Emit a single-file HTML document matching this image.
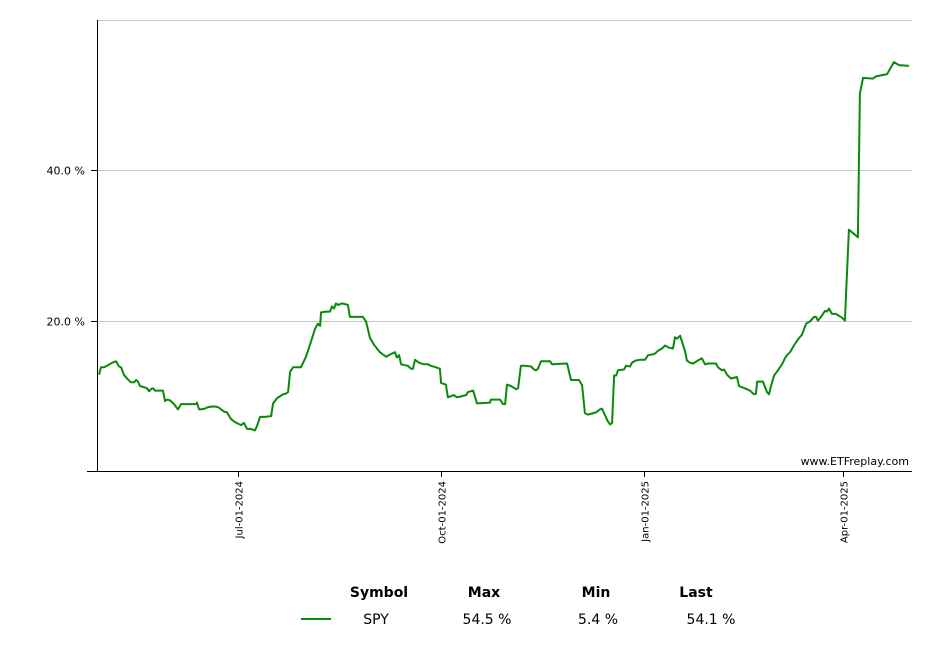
<!DOCTYPE html>
<html><head><meta charset="utf-8"><style>
html,body{margin:0;padding:0;background:#fff;}
svg{display:block;font-family:"DejaVu Sans","Liberation Sans",sans-serif;}
</style></head><body>
<svg id="chart" width="940" height="660" viewBox="0 0 940 660" xmlns="http://www.w3.org/2000/svg">
<g id="grid"></g>
<g id="axes"></g>
<path id="line" fill="none" stroke="#0a8a0a" stroke-width="2" stroke-linejoin="round"></path>
<text x="909" y="465" font-size="11" text-anchor="end" fill="#000">www.ETFreplay.com</text>
<g font-size="14">
<text x="379" y="597" font-weight="bold" text-anchor="middle">Symbol</text>
<text x="484" y="597" font-weight="bold" text-anchor="middle">Max</text>
<text x="596" y="597" font-weight="bold" text-anchor="middle">Min</text>
<text x="696" y="597" font-weight="bold" text-anchor="middle">Last</text>
<line x1="301" y1="619" x2="331" y2="619" stroke="#0a8a0a" stroke-width="2"/>
<text x="376" y="624" text-anchor="middle">SPY</text>
<text x="487" y="624" text-anchor="middle">54.5 %</text>
<text x="598" y="624" text-anchor="middle">5.4 %</text>
<text x="711" y="624" text-anchor="middle">54.1 %</text>
</g>
</svg>
<script>
// days since Jul-01-2024
const days=[-63.0,-62.1,-60.7,-59.4,-57.1,-55.3,-53.9,-53.0,-51.7,-50.3,-48.5,-47.1,-46.2,-45.3,-44.4,-42.1,-41.2,-40.3,-39.4,-38.5,-37.6,-34.0,-33.1,-32.2,-30.8,-29.0,-27.2,-25.8,-24.0,-22.2,-19.0,-18.6,-17.7,-16.8,-15.0,-13.6,-10.9,-9.1,-6.3,-5.0,-3.2,-1.4,1.4,2.7,4.1,5.9,7.7,8.6,10.0,12.2,15.0,15.9,17.7,20.4,21.7,22.7,23.6,24.9,28.5,30.8,32.6,34.9,36.2,37.2,37.6,39.9,41.7,42.6,43.5,44.4,45.3,47.1,49.8,50.7,53.5,56.6,58.0,59.8,61.6,64.3,65.7,67.1,68.9,71.1,72.0,73.0,73.9,77.0,78.4,79.3,80.2,82.0,84.3,86.1,87.4,89.7,91.5,92.0,94.2,95.1,97.9,99.2,100.6,103.3,104.2,106.5,108.3,114.2,114.6,117.4,118.7,120.1,121.0,121.9,123.7,126.0,126.9,128.2,130.0,132.8,134.1,135.0,135.9,137.3,141.4,142.3,149.1,150.9,154.5,155.9,157.2,158.6,162.2,164.0,164.9,167.6,168.6,169.5,170.4,171.3,172.2,174.9,175.8,177.6,178.5,180.3,182.1,184.4,185.8,187.6,188.9,190.3,192.1,193.5,195.3,197.1,198.0,198.9,200.3,202.5,203.4,204.8,206.2,208.4,210.2,211.6,213.0,216.6,217.5,219.3,220.2,221.6,223.4,226.1,227.0,229.7,232.0,233.8,234.7,235.2,237.9,239.7,240.6,241.5,242.9,244.7,246.5,247.8,248.7,250.1,251.9,252.8,254.2,255.5,257.4,259.2,261.0,261.9,262.8,264.6,266.0,266.9,267.8,269.1,270.9,273.7,275.0,276.8,280.9,281.8,283.2,287.7,289.1,294.1,297.2,299.5,304.0];
const spyValues=[12.8,13.8,13.8,14.0,14.4,14.6,13.9,13.8,12.8,12.3,11.8,11.8,12.1,11.9,11.3,11.1,11.0,10.6,10.9,11.0,10.7,10.7,9.3,9.5,9.4,8.9,8.2,8.9,8.9,8.9,8.9,9.1,8.2,8.2,8.3,8.5,8.6,8.5,7.9,7.8,6.9,6.5,6.1,6.4,5.6,5.6,5.4,6.0,7.2,7.2,7.3,9.0,9.7,10.2,10.3,10.5,13.2,13.8,13.8,15.2,16.8,18.9,19.6,19.3,21.1,21.2,21.2,21.9,21.6,22.3,22.1,22.3,22.1,20.5,20.5,20.5,19.9,17.7,16.8,15.8,15.5,15.2,15.5,15.8,15.1,15.4,14.2,14.0,13.6,13.6,14.8,14.4,14.2,14.2,14.0,13.8,13.6,11.7,11.5,9.8,10.1,9.8,9.9,10.1,10.5,10.7,9.0,9.1,9.5,9.5,9.5,8.9,8.9,11.5,11.3,10.9,11.0,14.0,14.0,13.9,13.5,13.4,13.6,14.6,14.6,14.2,14.3,12.1,12.1,11.4,7.7,7.5,7.8,8.2,8.3,6.6,6.2,6.4,12.7,12.7,13.4,13.5,14.0,13.9,14.4,14.7,14.8,14.8,15.4,15.5,15.6,16.0,16.3,16.7,16.4,16.3,17.8,17.6,18.0,16.0,14.7,14.4,14.3,14.7,15.0,14.2,14.3,14.3,13.8,13.4,13.5,12.8,12.3,12.5,11.3,11.0,10.7,10.2,10.3,11.9,11.9,10.5,10.2,11.3,12.7,13.4,14.2,15.0,15.4,15.8,16.7,17.1,17.7,18.1,19.6,19.9,20.5,20.5,20.0,20.7,21.3,21.2,21.6,20.9,20.9,20.4,20.0,32.1,31.1,50.2,52.3,52.2,52.5,52.8,54.4,54.0,53.9];
const yTicks=[20,40];
const yTickLabels=["20.0 %","40.0 %"];
const xTicks=[0,92,184,274];
const xTickLabels=["Jul-01-2024","Oct-01-2024","Jan-01-2025","Apr-01-2025"];

const X0=97,X1=912,Y0=471,Y1=20;
const dMin=-63.9,dMax=305.4,vMin=0,vMax=60;
function xs(d){return X0+(d-dMin)/(dMax-dMin)*(X1-X0);}
function ys(v){return Y0-(v-vMin)/(vMax-vMin)*(Y0-Y1);}
const NS="http://www.w3.org/2000/svg";
const grid=document.getElementById('grid'),axes=document.getElementById('axes');
function mk(tag,attrs,parent){const e=document.createElementNS(NS,tag);for(const k in attrs)e.setAttribute(k,attrs[k]);parent.appendChild(e);return e;}

let g=mk('line',{x1:X0,x2:X1,y1:Y1+0.5,y2:Y1+0.5,stroke:'#c8c8c8'},grid);


yTicks.forEach((t,i)=>{
 const y=Math.round(ys(t))+0.5;
 const l=mk('line',{x1:X0,x2:X1,y1:y,y2:y,stroke:'#c8c8c8'},grid);
 
 
 const tk=mk('line',{x1:91,x2:X0,y1:y,y2:y,stroke:'#000'},axes);
 
 
 const tx=mk('text',{x:85,y:y+4,'font-size':11,'text-anchor':'end',fill:'#000'},axes);
 tx.textContent=yTickLabels[i];
 
 
});
let ya=mk('line',{x1:X0+0.5,x2:X0+0.5,y1:Y1,y2:Y0+1,stroke:'#000'},axes);


let xa=mk('line',{x1:87,x2:X1,y1:Y0+0.5,y2:Y0+0.5,stroke:'#000'},axes);


xTicks.forEach((t,i)=>{
 const x=Math.round(xs(t))+0.5;
 const tk=mk('line',{x1:x,x2:x,y1:Y0,y2:Y0+6,stroke:'#000'},axes);
 
 
 const tx=mk('text',{x:0,y:0,'font-size':10,'text-anchor':'end',fill:'#000',transform:`translate(${x+4},${Y0+10}) rotate(-90)`},axes);
 tx.textContent=xTickLabels[i];
 
 
});
let d='';
days.forEach((dd,i)=>{d+=(i?'L':'M')+xs(dd).toFixed(1)+','+ys(spyValues[i]).toFixed(1);});
document.getElementById('line').setAttribute('d',d);
</script>
</body></html>
